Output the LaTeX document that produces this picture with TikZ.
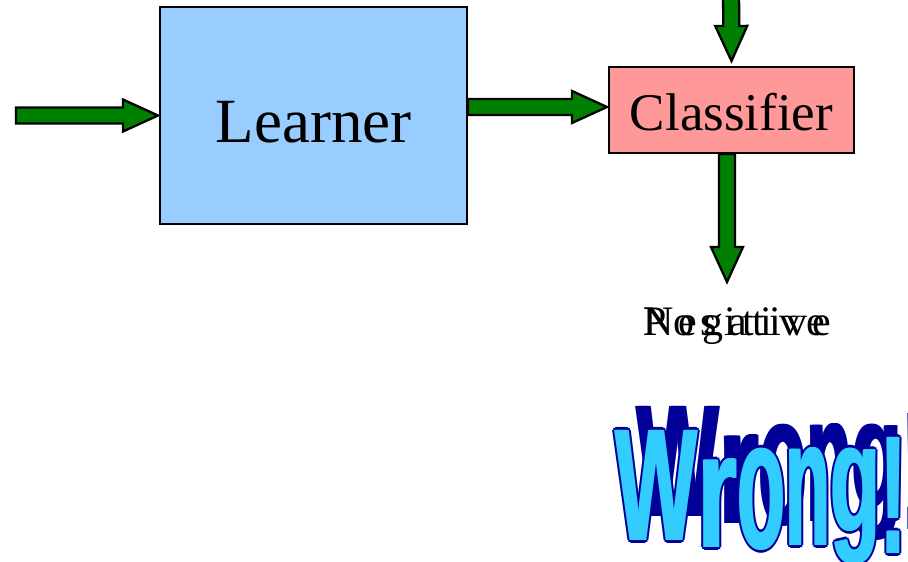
\documentclass[tikz,border=0pt]{standalone}
\usepackage{fontspec}
\usepackage{graphicx}
\setmainfont{Liberation Serif}
\newfontfamily\wafont{Liberation Sans}
\usetikzlibrary{calc,positioning}

\definecolor{learnerblue}{HTML}{99CCFF}
\definecolor{classpink}{HTML}{FF9999}
\definecolor{arrowgreen}{HTML}{008000}
\definecolor{wadark}{HTML}{000099}
\definecolor{walight}{HTML}{33CCFF}

\tikzset{
  box/.style={draw=black, line width=2pt, inner sep=0pt},
  fatarrow/.style={draw=black, fill=arrowgreen, line width=2.3pt, line join=miter,
    to path={let \p1=($(\tikztotarget)!35pt!(\tikztostart)$) in
      ($(\tikztostart)!8pt!90:(\tikztotarget)$) -- ($(\p1)!8pt!90:(\tikztotarget)$)
      -- ($(\p1)!16pt!90:(\tikztotarget)$) -- (\tikztotarget)
      -- ($(\p1)!16pt!-90:(\tikztotarget)$) -- ($(\p1)!8pt!-90:(\tikztotarget)$)
      -- ($(\tikztostart)!8pt!-90:(\tikztotarget)$) -- cycle}},
  waletter/.style={anchor=north west, inner sep=0pt},
  outtext/.style={anchor=base west, inner sep=0pt, font=\fontsize{42pt}{42pt}\selectfont}
}

\begin{document}
\begin{tikzpicture}[x=1pt, y=-1pt]
\clip (0,0) rectangle (908,562);
\useasboundingbox (0,0) rectangle (908,562);

% Boxes
\node[box, fill=learnerblue, minimum width=307pt, minimum height=217pt,
  text height=53pt, text depth=0pt, font=\fontsize{63pt}{63pt}\selectfont]
  (learner) at (313.5,115.5) {Learner};
\node[box, fill=classpink, minimum width=245pt, minimum height=86pt,
  text height=40pt, text depth=0pt, font=\fontsize{53pt}{53pt}\selectfont]
  (classifier) at (731.5,110) {Classifier};

% Free ends
\coordinate (lin) at (16,115.5);
\coordinate (cin) at (731,-10);
\coordinate (outtip) at (727,282);

% Block arrows
\draw[fatarrow] (lin) to ([xshift=-1pt]learner.west);
\draw[fatarrow] ([yshift=8.5pt]learner.east) to ([xshift=-1pt,yshift=3pt]classifier.west);
\draw[fatarrow] (cin) to ([yshift=5pt]classifier.north);
\draw[fatarrow] ([xshift=-4.5pt]classifier.south) to (outtip);

% Outputs, printed on top of each other
\node[outtext] (positive) at (643,335) {\addfontfeature{LetterSpace=16}Positive};
\node[outtext] (negative) at (643,335) {\addfontfeature{LetterSpace=12.5}Negative};

% Wrong! -- shadow first, then outlined letters
\foreach \ch/\lx/\ly/\lw/\lh [count=\i] in {W/615/430/82/110, r/697/458/40/89,
    o/737/448/48/102, n/785/447/45/98, g/830/448/50/116, !/880/437/26/116} {
  \foreach \dx/\dy in {0/0, 1.5/0, -1.5/0}
    \node[waletter, text=wadark] (shadow\i) at (\lx+22+\dx,\ly-24)
      {\resizebox*{\lw pt}{\lh pt}{\wafont\bfseries\ch}};
}
\foreach \ch/\lx/\ly/\lw/\lh [count=\i] in {W/615/430/82/110, r/697/458/40/89,
    o/737/448/48/102, n/785/447/45/98, g/830/448/50/116, !/880/437/26/116} {
  \foreach \dx/\dy in {3/0, -3/0, 0/3, 0/-3, 2.1/2.1, 2.1/-2.1, -2.1/2.1, -2.1/-2.1}
    \node[waletter, text=wadark] at (\lx+\dx,\ly+\dy)
      {\resizebox*{\lw pt}{\lh pt}{\wafont\bfseries\ch}};
  \foreach \dx in {-1.2, 0, 1.2}
    \node[waletter, text=walight] (wrong\i) at (\lx+\dx,\ly)
      {\resizebox*{\lw pt}{\lh pt}{\wafont\bfseries\ch}};
}
\end{tikzpicture}
\end{document}
